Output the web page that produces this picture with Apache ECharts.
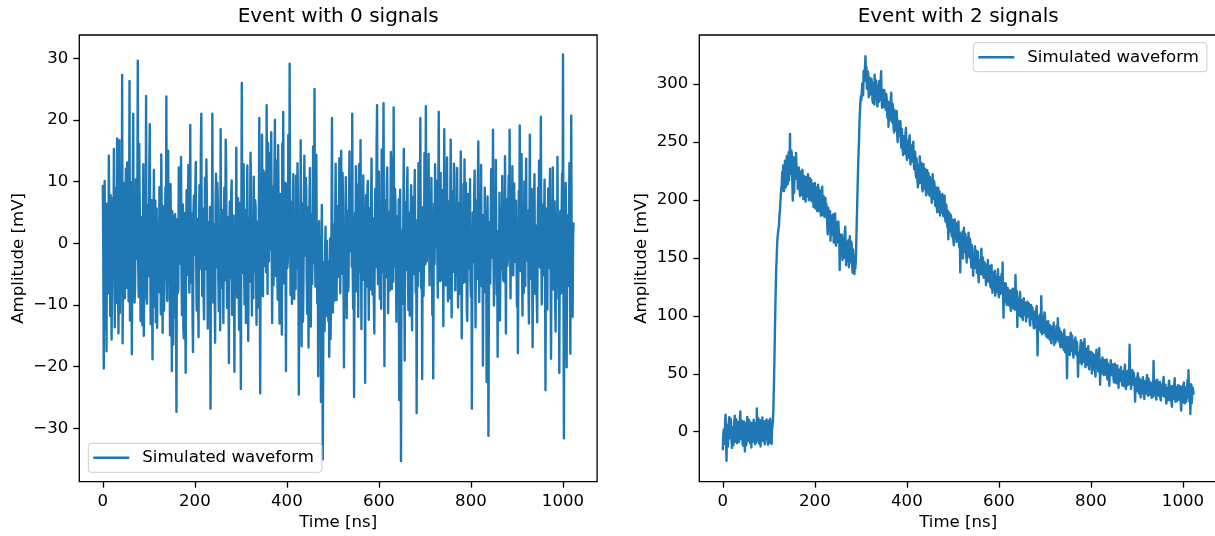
<!DOCTYPE html>
<html>
<head>
<meta charset="utf-8">
<script src="https://cdn.jsdelivr.net/npm/echarts@6/dist/echarts.min.js"></script>
<style>
html,body{margin:0;padding:0;background:#fff;}
#chart{width:1215px;height:536px;}
</style>
</head>
<body>
<div id="chart"></div>
<script>
// sample spacing of the waveforms (ns)
const timeStepNs = 1;

// Event with 0 signals (mV), one value per ns
const noiseEvent = [
9.3,-2.1,-20.3,4.7,10.1,-13.9,-4.2,1.5,-17.5,6.4,3.6,-3.8,-8.1,14.2,4.9,-0.9,-11.8,7.8,1.2,-15.6,-6.3,2.3,7.4,-5.1,15.3,-1.7,-13.6,8.9,2.8,-4.4,-9.7,17.0,
5.1,-6.7,-14.6,2.9,16.7,-11.3,-5.2,0.6,8.3,-4.1,27.3,-16.2,-3.7,5.5,9.8,-2.8,-8.9,3.4,12.1,-7.2,-1.4,13.1,6.6,-1.9,-9.4,4.8,26.3,-12.5,-2.5,1.1,9.9,-18.0,
-3.6,8.2,21.0,-3.0,1.8,-9.6,-7.3,1.4,10.4,-2.5,-1.1,6.9,29.6,-4.3,-8.7,16.1,7.5,-0.8,-12.6,3.7,4.2,-6.4,-13.3,0.9,12.8,-15.0,-4.9,7.3,3.1,-1.6,23.9,-8.8,
-9.8,2.7,6.2,-5.3,-2.4,12.6,19.3,-1.2,-13.1,4.1,7.0,-8.7,-18.8,3.0,0.6,11.9,-10.2,-2.2,6.9,-12.8,-4.5,5.6,-13.7,2.0,3.2,-4.6,-7.9,9.1,1.4,-0.5,-11.5,14.4,
4.6,-3.3,-14.5,6.0,2.0,-10.9,-6.8,1.8,9.1,-5.7,23.8,-2.0,-9.3,7.4,15.0,-6.1,-4.4,0.4,-14.9,9.6,3.7,-3.9,-20.7,5.2,-2.6,-16.4,4.4,1.0,-12.0,4.7,-0.8,-7.8,
-27.3,1.6,3.9,-8.1,-7.5,12.3,9.8,-2.7,-3.3,3.5,14.0,-4.8,-11.6,1.2,6.3,-13.7,-15.4,4.9,2.2,-6.6,-21.0,0.7,8.6,-3.2,-5.1,6.8,12.7,-1.4,-8.0,2.9,19.2,-5.0,
-6.4,3.8,4.8,-12.2,-17.6,5.1,7.7,-0.4,-1.9,8.7,13.2,-3.6,-10.9,4.0,2.6,-7.9,-15.2,1.7,9.4,-2.3,-4.1,15.4,21.0,-0.6,-8.5,2.5,5.6,-9.1,-12.3,0.8,10.6,-4.2,
-2.2,13.6,7.9,-1.3,-13.8,2.6,3.4,-10.1,-6.7,5.9,-26.8,0.2,5.2,-4.5,21.0,-1.8,-9.6,3.1,1.5,-8.4,-16.1,6.3,11.3,-2.9,-3.9,9.8,6.1,-5.7,-11.0,1.9,2.9,-14.1,
18.5,-0.9,-7.2,5.4,4.1,-3.5,-12.9,2.4,9.0,-6.0,-3.0,16.8,12.4,-2.6,-10.5,4.3,0.9,-5.2,-19.4,1.3,6.8,-1.0,-5.6,7.9,10.2,-11.6,-1.7,3.6,4.5,-4.8,-20.8,2.1,
3.0,-7.1,15.5,-1.5,-8.8,4.2,7.3,-3.0,-14.0,6.5,1.9,-8.3,-23.6,2.8,26.0,-1.1,-4.8,9.3,12.8,-3.4,-9.9,0.5,5.4,-12.9,-2.7,5.0,12.6,-2.0,-15.8,0.3,4.0,-6.2,
-6.0,14.7,8.5,-2.4,-11.7,3.3,2.4,-8.9,10.8,-1.8,-4.6,7.0,6.0,-5.3,-13.2,1.6,3.5,-10.4,-7.7,4.1,20.3,-3.1,-24.3,0.9,9.6,-6.5,17.6,-0.2,-8.6,11.8,5.0,-3.7,
-3.4,5.8,11.5,-4.7,22.4,2.1,-8.2,16.3,7.1,-2.9,14.6,1.4,-1.0,8.6,18.0,-0.7,-12.9,4.4,9.2,-6.8,3.8,12.2,20.0,0.5,-5.3,7.1,13.4,-3.5,-9.1,15.9,6.5,-1.2,
-13.0,2.2,8.0,-5.9,1.6,-14.8,16.2,3.1,21.3,0.6,-6.5,9.9,4.3,-2.7,-20.7,5.3,9.7,-4.0,-2.9,17.5,12.0,-1.6,29.1,2.4,-8.4,1.3,6.7,-9.8,-1.5,6.0,11.2,-3.9,
-9.0,4.5,3.3,-7.4,10.9,-1.1,-4.0,13.0,7.4,-3.3,-24.5,1.8,2.1,-8.6,16.7,0.4,-16.7,3.6,6.4,-12.7,-6.2,5.7,14.2,-0.3,-2.0,10.6,8.9,-4.9,-11.4,2.0,5.8,-16.9,
-5.5,6.1,12.2,-2.0,-13.5,1.5,4.7,-6.6,-0.4,15.7,9.3,-3.2,25.0,0.8,-7.0,4.9,14.3,-1.4,-9.7,2.7,-21.5,-4.8,3.6,-12.9,-10.0,1.0,-25.7,-5.3,6.2,-13.4,-35.0,-16.0,
-3.1,-8.0,-14.2,-1.7,2.7,-11.8,-9.5,0.4,-4.3,-7.2,-12.6,-3.0,-18.4,-9.9,0.8,-15.5,-7.1,3.9,20.3,-2.6,-11.2,-0.8,3.0,-9.3,-5.8,4.2,12.9,-3.1,-9.2,1.6,6.0,-5.4,
-2.4,4.8,13.8,-3.6,-8.1,6.2,15.0,-1.9,-4.9,11.4,7.2,-4.3,-20.1,-2.1,2.5,-9.0,10.7,0.6,-12.1,3.2,5.3,-7.8,-6.9,6.9,14.9,-0.5,-1.3,5.4,8.1,-3.8,21.0,-4.4,
-10.6,2.3,-24.9,-6.5,4.9,-2.0,12.5,0.9,-7.8,3.7,9.5,-11.9,-1.8,12.8,6.0,-4.6,16.7,1.1,-13.9,7.6,3.1,-5.9,11.0,-0.6,-5.4,4.3,-22.6,1.8,7.8,-7.0,-3.2,9.1,
10.1,-4.1,-12.4,1.7,5.7,-7.5,-0.9,6.3,13.7,-1.0,-8.3,3.5,4.0,-9.6,-14.6,2.2,8.8,-3.9,-2.1,16.0,22.4,-0.4,-6.6,5.1,11.6,-2.7,-9.0,1.3,3.5,-10.6,15.2,-1.5,
-4.7,6.6,22.7,-0.2,-19.9,3.4,7.0,-5.5,-2.6,9.2,12.3,-1.3,-11.3,2.5,5.1,-7.7,0.3,4.6,14.8,-2.4,-7.4,13.9,9.9,-6.2,22.0,0.1,-3.8,8.8,6.3,-4.0,-12.7,1.9,
4.4,-2.8,-6.1,7.1,-25.4,-3.0,8.7,-1.6,-35.3,-4.4,2.0,-7.0,-9.8,3.9,15.3,-0.6,-19.0,1.2,6.6,-4.3,-3.5,8.0,12.3,-2.5,-10.8,0.7,4.9,-11.7,-1.2,4.8,9.4,-5.6,
-14.1,1.5,7.5,-3.2,-5.0,6.8,11.9,-0.9,-8.0,2.6,-27.5,-2.1,3.8,-6.9,13.0,1.0,-4.4,5.3,20.3,-1.7,-7.3,3.0,-22.0,0.2,5.9,-8.5,-1.6,14.6,10.2,-3.4,22.2,0.9,
-2.9,4.0,9.1,-1.1,14.5,2.8,-6.8,8.3,3.9,-4.5,10.6,1.6,-11.6,3.3,-21.9,-2.7,6.4,-3.4,12.8,4.9,-0.7,10.1,7.7,-2.0,-8.8,5.5,21.3,0.6,2.3,-6.1,11.4,-1.8,
-5.9,3.1,8.6,-2.9,-13.4,4.7,18.5,0.3,4.5,-6.8,-3.6,7.4,13.9,-0.8,-9.4,2.9,6.8,-8.9,1.1,6.0,16.8,-1.1,-12.0,3.8,8.4,-3.2,-4.6,12.9,11.5,-2.4,-7.6,5.1,
2.8,-5.0,12.2,0.7,-10.4,4.3,6.5,-8.2,-1.0,7.0,14.9,-3.1,-15.4,1.9,4.2,-6.4,9.6,0.5,13.6,-2.0,-6.3,9.8,3.2,-10.8,-12.6,1.4,8.0,-4.1,-3.4,2.2,10.4,-6.6,
-8.7,2.0,-26.8,-4.6,5.0,-1.2,-3.0,7.9,11.8,-2.3,-13.6,3.4,6.9,-5.8,-0.6,9.5,16.5,-0.7,-9.5,1.8,4.0,-6.9,12.7,0.4,-7.0,4.6,-19.8,-3.3,2.6,-7.9,9.0,-2.7,
-4.4,5.2,-22.5,-1.9,7.6,-3.6,-31.2,-9.8,3.4,-2.0,-6.5,4.7,12.0,1.1,-2.3,6.6,18.4,-2.5,-10.1,0.8,5.5,-4.8,13.5,2.3,-8.3,-1.4,-18.4,0.6,2.0,-5.7,8.2,-12.5,
-12.2,3.5,5.8,-4.2,10.9,1.0,-6.0,3.9,2.9,-6.3,14.1,-0.4,-14.6,2.6,7.1,-3.7,-2.8,6.2,11.0,-1.3,18.4,1.9,-8.9,2.8,4.6,-5.1,12.5,-0.9,-5.2,4.4,9.7,-3.0,
-3.0,4.1,6.9,-2.2,-10.3,1.7,-17.8,-4.9,8.5,-0.8,19.1,2.0,-4.5,6.5,14.5,-3.6,-11.7,0.2,3.9,-8.0,10.0,1.4,-6.9,5.9,13.7,-2.8,-1.9,3.3,5.3,-6.7,-13.0,1.2,
17.6,-1.5,-5.7,3.4,8.8,-4.0,-16.8,-2.6,4.3,6.7,11.2,-1.1,-8.2,2.9,1.3,-9.2,-12.8,1.8,9.0,-3.5,13.4,0.6,-3.9,8.1,20.5,-1.9,-9.9,1.5,6.2,-5.2,-2.0,4.0,
10.3,-3.2,-23.8,1.9,5.6,-5.5,-10.7,2.6,8.9,-1.7,-4.0,7.1,12.1,-2.4,-18.7,-3.8,3.0,-7.2,12.3,0.9,-7.5,3.1,6.8,-9.4,-14.3,1.0,4.7,-4.5,14.0,-0.7,-9.0,2.8,
-21.0,-2.6,5.2,-0.4,-8.1,4.4,11.3,-1.8,30.6,-3.1,-31.6,-6.0,3.3,-1.5,9.8,-4.2,-20.1,2.7,4.5,-5.0,-6.9,3.6,13.0,-3.3,-17.9,1.4,20.7,-4.9,-8.4,-11.9,1.0,3.2
];

// Event with 2 signals (mV), one value per ns
const twoSignalEvent = [
-15.2,-2.0,1.8,-10.5,-6.4,9.3,14.7,-7.2,-25.0,6.1,3.9,-12.8,-11.3,8.0,12.6,-5.6,-4.8,11.2,7.9,-9.0,-14.1,3.7,5.2,-11.4,-2.6,9.6,13.8,-4.3,-8.7,10.8,2.4,-9.9,
-9.5,8.4,6.3,-8.9,0.7,11.0,17.6,-6.3,-5.8,9.7,4.1,-10.2,-12.0,5.3,8.8,-7.9,-17.1,7.1,2.9,-11.6,-3.6,12.8,10.4,-5.0,-7.7,10.1,5.5,-9.8,-1.3,7.7,-13.6,4.9,
7.4,-8.6,-4.2,10.3,11.9,-5.9,-10.8,7.6,3.3,-9.4,20.1,-3.8,-6.9,11.7,8.2,-10.1,-2.0,9.9,-12.7,4.4,6.0,-7.3,12.4,-4.7,-8.3,8.5,1.6,-10.9,9.1,-6.2,-5.1,10.6,
4.8,-7.9,-11.2,6.4,9.6,-9.7,-3.1,11.3,7.5,-4.9,-10.6,2.1,6.0,9.0,22.0,40.0,60.0,83.0,105.0,124.0,140.0,150.0,162.0,168.0,172.0,171.0,178.0,186.0,190.0,198.0,204.0,210.0,
212.4,224.0,208.1,229.7,221.6,207.5,214.9,233.8,227.3,210.9,219.0,238.0,232.5,213.4,224.1,241.2,216.8,231.0,257.0,222.6,229.4,242.5,238.2,215.7,199.5,236.9,226.7,206.2,236.0,222.0,218.3,240.6,
241.3,219.2,222.0,209.5,210.6,228.1,226.4,207.0,203.2,224.6,217.9,204.4,211.5,226.0,224.8,200.7,205.0,220.5,213.3,201.9,198.6,217.4,219.7,203.1,208.9,222.3,215.6,199.8,201.8,219.0,212.0,200.3,
217.2,198.8,203.5,214.0,210.9,194.1,196.4,212.5,214.7,192.6,200.1,210.8,207.6,190.4,193.8,213.2,209.3,194.7,189.9,207.9,204.2,186.3,195.5,208.6,211.4,190.1,186.7,203.3,198.0,185.4,192.3,201.7,
185.6,196.5,197.2,177.9,170.3,193.4,191.8,174.0,178.4,190.2,164.9,183.3,186.0,169.8,175.2,187.5,181.7,163.2,168.0,184.6,188.3,166.0,160.5,180.7,176.9,163.5,170.8,181.4,182.1,165.9,139.5,170.2,
171.3,154.6,156.8,169.9,148.2,163.7,166.5,150.1,152.4,170.8,177.0,155.5,143.6,164.2,160.1,147.0,155.8,165.3,141.9,159.7,168.7,146.2,149.3,163.9,162.0,145.0,137.2,157.3,158.4,144.1,136.0,150.8,
141.0,148.0,163.0,180.0,196.0,213.0,228.0,241.0,252.0,268.0,276.0,284.0,289.5,286.0,287.0,300.5,298.4,290.2,311.2,306.8,302.5,316.0,324.0,305.3,314.6,296.0,299.1,310.9,308.3,288.6,292.7,305.4,
305.8,291.0,289.4,304.6,301.2,286.9,283.7,300.3,296.5,282.4,308.1,295.0,287.2,303.1,299.8,282.7,280.6,297.9,294.0,284.5,302.7,290.1,286.3,301.6,311.0,288.8,279.4,295.2,293.6,280.3,285.1,294.9,
296.2,280.9,277.8,291.5,288.4,274.2,270.5,284.8,263.1,279.0,284.0,268.5,275.6,287.3,292.6,271.4,266.9,283.0,279.3,262.6,258.2,277.4,271.7,260.1,262.4,273.8,276.5,255.2,249.8,268.3,264.0,254.9,
255.1,263.7,268.0,250.5,244.9,261.3,259.6,242.8,238.7,255.0,252.3,240.1,246.0,257.4,262.1,240.9,234.5,251.2,249.7,236.3,241.2,252.4,255.8,235.7,230.6,246.9,244.3,233.0,237.9,248.1,250.2,232.4,
226.4,238.9,241.5,223.4,219.3,236.0,234.7,216.7,210.8,229.8,228.2,214.4,237.6,220.2,215.0,232.1,224.9,211.8,207.4,226.5,231.1,209.9,213.6,227.0,221.0,208.2,203.9,222.4,225.8,206.7,216.2,223.1,
204.5,214.6,219.9,203.1,208.2,216.8,197.6,211.2,222.3,205.5,201.0,216.3,213.4,198.9,194.8,211.0,207.7,193.6,189.3,206.8,210.6,190.0,198.2,207.4,186.5,201.3,204.0,189.2,192.7,205.1,199.8,186.0,
187.9,198.1,203.6,185.0,181.2,196.2,194.4,180.1,176.5,190.6,166.0,182.4,189.0,175.0,172.8,187.3,185.3,170.2,168.4,182.9,179.6,164.8,160.9,178.5,183.1,166.9,171.4,180.0,163.7,175.8,176.8,165.3,
181.5,166.2,158.7,172.0,137.5,160.4,170.3,156.8,162.6,172.9,149.4,165.7,176.0,160.0,155.2,170.6,166.8,152.5,145.9,167.1,159.1,163.8,171.7,153.0,150.3,166.5,163.4,148.7,141.8,160.9,157.5,146.4,
134.6,151.3,152.8,141.0,160.1,146.5,144.7,156.2,137.2,151.7,155.3,138.4,128.9,147.9,149.6,135.8,141.4,153.6,158.0,139.1,135.5,150.4,147.1,132.9,131.8,146.0,144.0,134.2,126.5,143.8,139.9,130.6,
148.3,129.5,131.2,143.0,139.7,127.2,124.5,140.1,143.9,126.8,119.8,137.4,135.1,122.3,128.6,139.0,117.4,131.6,133.7,120.5,126.0,135.9,140.2,121.1,115.9,133.4,129.3,118.7,121.7,132.5,136.4,120.0,
146.0,118.2,98.5,124.6,128.2,112.0,115.7,127.9,122.4,109.4,110.3,124.1,125.6,113.7,108.9,122.0,119.0,107.5,104.2,121.8,116.8,106.9,123.5,112.2,106.1,123.0,118.4,105.3,135.2,114.8,111.6,121.4,
90.3,108.8,113.9,100.2,104.7,116.0,120.6,103.5,99.1,113.4,110.5,98.2,96.4,112.7,115.2,100.9,101.8,111.5,107.3,95.1,93.6,108.9,112.1,99.4,98.0,110.6,104.9,94.0,91.7,106.3,109.4,97.2,
97.5,107.0,105.8,92.3,89.2,103.6,101.4,90.0,94.7,104.9,108.6,89.5,66.0,95.8,99.3,88.1,86.8,101.2,95.5,86.0,117.0,97.3,84.1,99.6,96.9,85.4,90.2,103.0,100.6,88.7,82.8,95.0,
93.4,81.2,85.0,95.4,97.1,83.6,79.6,92.0,89.8,78.1,76.3,90.7,91.5,80.8,83.7,94.1,74.9,87.5,88.2,77.0,80.4,91.3,92.6,79.9,98.0,84.2,77.8,89.6,86.1,75.3,72.9,86.4,
84.3,73.0,71.5,83.9,79.9,70.4,88.0,75.2,68.6,82.1,76.2,68.9,46.2,72.6,81.7,69.4,73.4,80.0,66.1,79.2,85.5,71.8,69.8,83.0,77.0,67.3,63.9,78.5,74.6,68.0,81.3,70.1,
66.7,78.0,75.8,63.1,47.4,68.5,70.2,59.8,62.5,74.3,78.9,61.0,58.1,76.8,72.6,60.2,64.0,73.1,80.1,62.9,55.6,71.7,68.3,57.5,61.2,70.6,73.9,59.3,53.8,69.0,66.4,57.9,
59.7,68.8,50.2,61.9,67.4,53.7,56.9,66.2,63.3,52.0,47.6,64.4,70.8,55.3,58.5,66.9,52.1,63.4,72.0,54.6,40.5,58.7,61.8,50.1,54.3,64.2,65.0,52.8,48.9,62.0,58.2,49.3,
51.6,60.3,62.4,48.1,45.0,58.9,57.8,46.4,39.7,55.6,53.5,61.7,60.9,48.8,47.2,58.0,55.1,45.9,42.6,56.4,58.7,47.7,50.3,41.8,44.8,57.3,56.2,45.5,37.9,53.6,52.0,44.0,
46.3,55.8,54.7,43.2,40.1,52.0,50.8,39.4,43.5,54.1,57.9,42.6,36.8,51.3,48.2,39.9,52.6,45.0,41.0,53.8,75.0,49.2,44.9,36.9,38.2,50.6,53.3,40.7,42.1,50.9,47.5,39.0,
26.0,41.1,45.8,35.0,37.4,47.6,50.5,38.0,33.1,45.9,42.7,34.4,29.6,44.7,46.4,33.2,35.9,47.0,40.8,31.7,28.3,43.6,44.2,32.8,36.6,44.9,49.1,35.3,31.0,46.0,41.5,32.1,
34.8,42.9,43.7,31.6,29.2,41.8,38.9,30.4,61.0,40.2,32.5,44.3,41.3,30.1,27.8,40.7,45.0,32.0,35.4,42.4,30.7,39.0,43.0,29.3,26.9,40.6,38.1,31.2,33.6,42.8,47.2,30.5,
31.2,38.8,40.6,28.0,24.3,37.5,36.8,27.1,29.5,41.0,44.1,30.3,27.0,39.6,35.7,26.2,21.6,36.9,39.4,28.5,30.2,40.0,46.3,29.7,25.8,38.3,34.5,26.6,28.9,40.1,41.7,27.7,
27.4,39.5,36.3,26.1,18.2,34.2,38.7,25.0,30.1,40.4,42.5,27.6,24.6,38.2,33.9,25.9,29.0,39.1,44.8,30.0,53.0,33.4,26.2,41.3,15.3,29.8,40.9,24.7,31.5,38.0,35.8,33.0
];

const xTicks = [0, 200, 400, 600, 800, 1000];
const yTicksNoise = [-30, -20, -10, 0, 10, 20, 30];
const yTicksSignal = [0, 50, 100, 150, 200, 250, 300];
const titles = ['Event with 0 signals', 'Event with 2 signals'];
const seriesName = 'Simulated waveform';

const FONT = 'DejaVu Sans';
const LINE_COLOR = '#1f77b4';
const fmt = v => String(v).replace('-', '\u2212');

function toPairs(arr) { return arr.map((v, i) => [i * timeStepNs, v]); }

const grids = [
  { left: 79.3, top: 35, width: 517.8, height: 446.7 },
  { left: 699.3, top: 35, width: 517.8, height: 446.7 }
].map(g => Object.assign({
  show: true, borderColor: '#000', borderWidth: 1.3, backgroundColor: 'transparent',
  containLabel: false, outerBoundsMode: 'none'
}, g));

function xAxis(gi) {
  return {
    type: 'value', gridIndex: gi, min: -51.15, max: 1074.15,
    name: 'Time [ns]', nameLocation: 'middle', nameGap: 31,
    nameTextStyle: { fontFamily: FONT, fontSize: 16.6, color: '#000' },
    axisLine: { show: false, onZero: false }, splitLine: { show: false },
    axisTick: { show: true, inside: false, length: 6, customValues: xTicks, lineStyle: { color: '#000', width: 1.3 } },
    axisLabel: { customValues: xTicks, margin: 11, fontFamily: FONT, fontSize: 16.6, color: '#000', formatter: fmt }
  };
}
function yAxis(gi, min, max, ticks, gap) {
  return {
    type: 'value', gridIndex: gi, min: min, max: max,
    name: 'Amplitude [mV]', nameLocation: 'middle', nameGap: gap, nameRotate: 90,
    nameTextStyle: { fontFamily: FONT, fontSize: 16.6, color: '#000' },
    axisLine: { show: false, onZero: false }, splitLine: { show: false },
    axisTick: { show: true, inside: false, length: 6, customValues: ticks, lineStyle: { color: '#000', width: 1.3 } },
    axisLabel: { customValues: ticks, margin: 11, fontFamily: FONT, fontSize: 16.6, color: '#000', formatter: fmt }
  };
}
function legend(left, top) {
  return {
    data: [seriesName], left: left, top: top, orient: 'horizontal',
    icon: 'rect', itemWidth: 36, itemHeight: 2.5,
    padding: [5, 8, 5, 5],
    backgroundColor: 'rgba(255,255,255,0.8)', borderColor: '#cccccc', borderWidth: 1, borderRadius: 3,
    selectedMode: false,
    textStyle: { fontFamily: FONT, fontSize: 16.6, color: '#000', lineHeight: 19, padding: [0, 0, 0, 8] }
  };
}
function lineSeries(gi, arr) {
  return {
    type: 'line', name: seriesName, xAxisIndex: gi, yAxisIndex: gi,
    data: toPairs(arr), showSymbol: false, symbol: 'none', sampling: null,
    color: LINE_COLOR, lineStyle: { color: LINE_COLOR, width: 2.4, join: 'round', cap: 'round' },
    silent: true, animation: false, z: 2
  };
}

const chart = echarts.init(document.getElementById('chart'), null, { renderer: 'canvas' });
chart.setOption({
  animation: false,
  backgroundColor: '#fff',
  title: [
    { text: titles[0], left: 338.2, top: 7, textAlign: 'center', padding: 0,
      textStyle: { fontFamily: FONT, fontSize: 20, fontWeight: 'normal', color: '#000' } },
    { text: titles[1], left: 958.2, top: 7, textAlign: 'center', padding: 0,
      textStyle: { fontFamily: FONT, fontSize: 20, fontWeight: 'normal', color: '#000' } }
  ],
  legend: [legend(88.3, 443.3), legend(973.3, 42.7)],
  grid: grids,
  xAxis: [xAxis(0), xAxis(1)],
  yAxis: [yAxis(0, -38.64, 33.76, yTicksNoise, 52), yAxis(1, -43.1, 342.3, yTicksSignal, 48.7)],
  series: [lineSeries(0, noiseEvent), lineSeries(1, twoSignalEvent)]
});
</script>
</body>
</html>
